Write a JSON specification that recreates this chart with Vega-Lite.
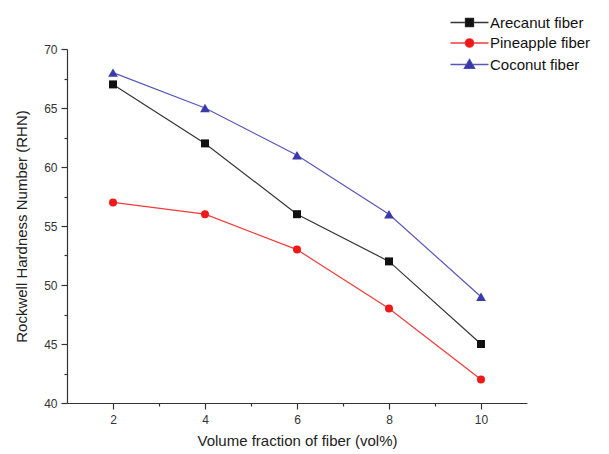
{
  "$schema": "https://vega.github.io/schema/vega-lite/v6.json",
  "width": 460,
  "height": 354,
  "autosize": {"type": "none"},
  "padding": {"left": 67, "top": 49, "right": 82, "bottom": 51},
  "background": "white",
  "config": {
    "view": {"stroke": null},
    "font": "Liberation Sans",
    "axis": {
      "grid": false,
      "domainColor": "#333333",
      "tickColor": "#333333",
      "labelColor": "#333333",
      "titleColor": "#222222",
      "labelFont": "Liberation Sans",
      "titleFont": "Liberation Sans",
      "labelFontSize": 12,
      "titleFontSize": 15,
      "titleFontWeight": "normal",
      "domainWidth": 1.2,
      "tickWidth": 1.2
    }
  },
  "data": {
    "values": [
      {"fiber": "Arecanut fiber", "vol": 2, "rhn": 67},
      {"fiber": "Arecanut fiber", "vol": 4, "rhn": 62},
      {"fiber": "Arecanut fiber", "vol": 6, "rhn": 56},
      {"fiber": "Arecanut fiber", "vol": 8, "rhn": 52},
      {"fiber": "Arecanut fiber", "vol": 10, "rhn": 45},
      {"fiber": "Pineapple fiber", "vol": 2, "rhn": 57},
      {"fiber": "Pineapple fiber", "vol": 4, "rhn": 56},
      {"fiber": "Pineapple fiber", "vol": 6, "rhn": 53},
      {"fiber": "Pineapple fiber", "vol": 8, "rhn": 48},
      {"fiber": "Pineapple fiber", "vol": 10, "rhn": 42},
      {"fiber": "Coconut fiber", "vol": 2, "rhn": 68},
      {"fiber": "Coconut fiber", "vol": 4, "rhn": 65},
      {"fiber": "Coconut fiber", "vol": 6, "rhn": 61},
      {"fiber": "Coconut fiber", "vol": 8, "rhn": 56},
      {"fiber": "Coconut fiber", "vol": 10, "rhn": 49}
    ]
  },
  "encoding": {
    "x": {
      "field": "vol",
      "type": "quantitative",
      "scale": {"domain": [1, 11], "nice": false, "zero": false},
      "axis": {
        "title": "Volume fraction of fiber (vol%)",
        "values": [2, 3, 4, 5, 6, 7, 8, 9, 10],
        "labelExpr": "datum.value % 2 == 0 ? datum.label : ''",
        "tickSize": {"condition": {"test": "datum.value % 2 == 0", "value": 6}, "value": 3},
        "labelPadding": 5,
        "titlePadding": 8
      }
    },
    "y": {
      "field": "rhn",
      "type": "quantitative",
      "scale": {"domain": [40, 70], "nice": false, "zero": false},
      "axis": {
        "title": "Rockwell Hardness Number (RHN)",
        "values": [40, 42.5, 45, 47.5, 50, 52.5, 55, 57.5, 60, 62.5, 65, 67.5, 70],
        "labelExpr": "datum.value % 5 == 0 ? datum.label : ''",
        "tickSize": {"condition": {"test": "datum.value % 5 == 0", "value": 6}, "value": 3},
        "labelPadding": 4,
        "titlePadding": 14
      }
    },
    "color": {
      "field": "fiber",
      "type": "nominal",
      "scale": {
        "domain": ["Arecanut fiber", "Pineapple fiber", "Coconut fiber"],
        "range": ["#111111", "#f01818", "#3a3aaa"]
      },
      "legend": {
        "title": null,
        "orient": "none",
        "legendX": 395,
        "legendY": -34,
        "padding": 0,
        "labelFontSize": 15,
        "labelFont": "Liberation Sans",
        "labelColor": "#111111",
        "labelOffset": 13,
        "symbolSize": 100,
        "symbolStrokeWidth": 1.3,
        "rowPadding": 4.5,
        "encoding": {
          "symbols": {
            "shape": {
              "condition": [
                {"test": "datum.value === 'Arecanut fiber'", "value": "M-3.8,0H3.8M-0.8,-0.8H0.8V0.8H-0.8Z"},
                {"test": "datum.value === 'Pineapple fiber'", "value": "M-3.8,0H3.8M-0.84,0A0.84,0.84 0 1,0 0.84,0A0.84,0.84 0 1,0 -0.84,0Z"}
              ],
              "value": "M-3.8,0H3.8M-1.03,0.76L0,-1.06L1.03,0.76Z"
            },
            "opacity": {"value": 1},
            "fillOpacity": {"value": 1},
            "strokeOpacity": {"value": 0.85},
            "strokeWidth": {"value": 1.3}
          }
        }
      }
    }
  },
  "layer": [
    {
      "mark": {"type": "line", "strokeWidth": 1.2, "opacity": 0.85}
    },
    {
      "transform": [{"filter": "datum.fiber === 'Arecanut fiber'"}],
      "mark": {"type": "point", "filled": true, "opacity": 1, "size": 64, "shape": "square"}
    },
    {
      "transform": [{"filter": "datum.fiber === 'Pineapple fiber'"}],
      "mark": {"type": "point", "filled": true, "opacity": 1, "size": 64, "shape": "circle"}
    },
    {
      "transform": [{"filter": "datum.fiber === 'Coconut fiber'"}],
      "mark": {"type": "point", "filled": true, "opacity": 1, "size": 95, "shape": "triangle-up"}
    }
  ]
}
